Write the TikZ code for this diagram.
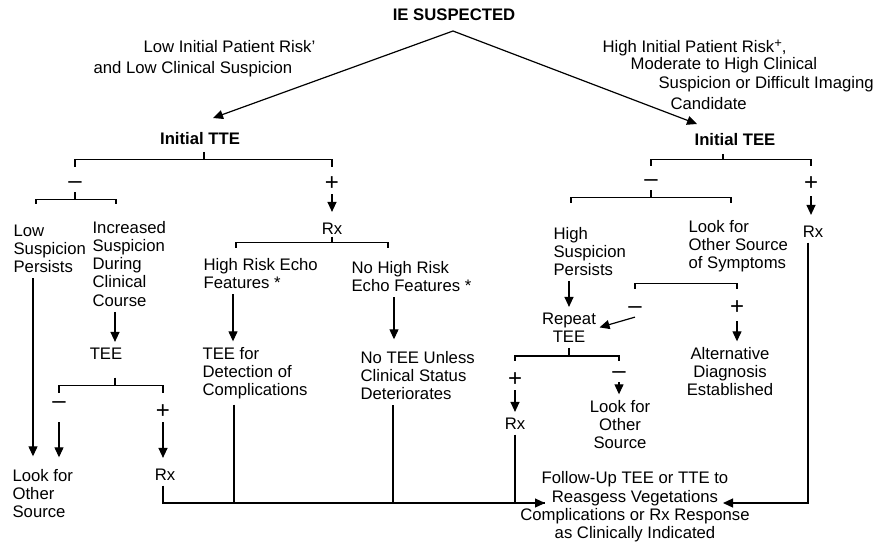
\documentclass[tikz,border=0pt]{standalone}
\usepackage{fontspec}
\setmainfont{Liberation Sans}
\usetikzlibrary{arrows.meta}

\begin{document}
\begin{tikzpicture}[x=1pt,y=-1pt,line width=1.2pt,
    txt/.style={font=\fontsize{16.7}{18.3}\selectfont,inner xsep=3pt,inner ysep=5pt,align=left},
    mid/.style={txt,align=center},
    hdr/.style={txt,font=\bfseries\fontsize{16.7}{18.3}\selectfont},
    sgn/.style={font=\fontsize{24}{24}\selectfont,inner sep=0pt,text height=12pt,text depth=3pt,anchor=base},
    arr/.style={-{Triangle[width=9pt,length=10pt]}}]
\useasboundingbox (0,0) rectangle (877,542);

% multi-line nodes sit on the baseline of their last line
\node[hdr,anchor=base] (ie) at (454,20) {IE SUSPECTED};
\node[txt,anchor=base west] (lowlbl) at (90,73) {\hspace*{50pt}Low Initial Patient Risk'\\[2.7pt]and Low Clinical Suspicion};
\node[txt,anchor=base west] (highlbl) at (599,109) {High Initial Patient Risk\raisebox{5pt}{\fontsize{13}{13}\selectfont+},\\[-1.3pt]\hspace*{28pt}Moderate to High Clinical\\\hspace*{56pt}Suspicion or Difficult Imaging\\[2.7pt]\hspace*{68pt}Candidate};
\node[hdr,anchor=base] (tte) at (200,144) {Initial TTE};
\node[hdr,anchor=base] (tee) at (735,145) {Initial TEE};
\coordinate (apex) at ([xshift=-1pt,yshift=-11pt]ie.base);
\coordinate (ttein) at ([xshift=13pt,yshift=26pt]tte.base);
\coordinate (teein) at ([xshift=-38pt,yshift=21pt]tee.base);
\draw[arr] (apex) -- (ttein);
\draw[arr] (apex) -- (teein);

% TTE side
\node[sgn] (tneg) at (75,188.5) {--};
\node[sgn] (tpos) at (332,190.5) {+};
\draw (tte.south) ++(4,2) -- ++(0,8) coordinate (ttebar);
\draw (tneg |- ttebar) ++(0,7) -- (tneg |- ttebar) -- (tpos |- ttebar) -- ++(0,7);
\node[txt,anchor=base west] (lowsusp) at (10,272.6) {Low\\Suspicion\\Persists};
\node[txt,anchor=base west] (incsusp) at (89,306.2) {Increased\\Suspicion\\During\\Clinical\\Course};
\draw (tneg.south) -- ++(0,7) coordinate (tnegbar) -- ++(-39,0) -- ++(0,5) (tnegbar) -- ++(41,0) -- ++(0,5);
\node[txt,anchor=base] (tee2) at (106,359) {TEE};
\draw[arr] ([xshift=26pt]incsusp.south west) -- ([xshift=9pt]tee2.north);
\draw ([xshift=9pt]tee2.south) ++(0,13) -- ++(0,8) coordinate (teebar);
\node[sgn] (tneg2) at (59,408.5) {--};
\node[sgn] (tpos2) at (163,418.5) {+};
\draw (tneg2 |- teebar) ++(0,7) -- (tneg2 |- teebar) -- (tpos2 |- teebar) -- ++(0,7);
\node[txt,anchor=base west] (lookl) at (9,517.6) {Look for\\Other\\Source};
\node[txt,anchor=base] (rxl) at (165,480) {Rx};
\draw[arr,shorten >=7pt] ([xshift=23pt]lowsusp.south west) -- ([xshift=24pt]lookl.north west);
\draw[arr,shorten <=10pt,shorten >=6pt] (tneg2.south) -- (tneg2 |- lookl.north);
\draw[arr,shorten >=5pt] (tpos2.south) -- (tpos2 |- rxl.north);

\node[txt,anchor=base] (rxm) at (332,234) {Rx};
\draw[arr,shorten >=5pt] (tpos.south) -- (rxm.north);
\draw (rxm.south) ++(0,-3) -- ++(0,6) coordinate (rxbar) -- ++(-96,0) -- ++(0,5) (rxbar) -- ++(56,0) -- ++(0,5);
\node[txt,anchor=base west] (highecho) at (200,288.3) {High Risk Echo\\Features *};
\node[txt,anchor=base west] (nohigh) at (348,291.3) {No High Risk\\Echo Features *};
\node[txt,anchor=base west] (teefor) at (199,395.6) {TEE for\\Detection of\\Complications};
\node[txt,anchor=base west] (noteeu) at (357,399.6) {No TEE Unless\\Clinical Status\\Deteriorates};
\draw[arr] ([xshift=33pt]highecho.south west) -- ([xshift=34pt]teefor.north west);
\draw[arr,shorten >=6pt] ([xshift=46pt]nohigh.south west) -- ([xshift=37pt]noteeu.north west);

% TEE side
\draw ([xshift=-12pt]tee.south) ++(0,3) -- ++(0,6) coordinate (teebar2);
\node[sgn] (eneg) at (651,186.5) {--};
\node[sgn] (epos) at (811,190.5) {+};
\draw (eneg |- teebar2) ++(0,6) -- (eneg |- teebar2) -- (epos |- teebar2) -- ++(0,6);
\node[txt,anchor=base] (rxr) at (813,237) {Rx};
\draw[arr,shorten <=2pt,shorten >=5pt] (epos.south) -- (epos |- rxr.north);
\draw (eneg.south) -- ++(0,7) coordinate (enegbar) -- ++(-80,0) -- ++(0,6) (enegbar) -- ++(80,0) -- ++(0,6);
\node[txt,anchor=base west] (highsusp) at (550,275.6) {High\\Suspicion\\Persists};
\node[txt,anchor=base west] (lookfor) at (685,268.6) {Look for\\Other Source\\of Symptoms};
\node[mid,anchor=base] (repeat) at (569,342.3) {Repeat\\TEE};
\draw[arr] (repeat.north |- highsusp.south) -- (repeat.north);
\coordinate (symbar) at ([yshift=-6pt]lookfor.south);
\node[sgn] (sneg) at (635,313.5) {--};
\node[sgn] (spos) at (737,314.5) {+};
\draw (sneg |- symbar) ++(0,5) -- (sneg |- symbar) -- (spos |- symbar) -- ++(0,5);
\draw[arr] (sneg.south) -- (repeat.east);
\node[mid,anchor=base] (altdx) at (730,395.6) {Alternative\\Diagnosis\\Established};
\draw[arr,shorten <=3pt] (spos.south) -- (spos |- altdx.north);
\draw (repeat.south) -- ++(0,8) coordinate (repbar);
\node[sgn] (rpos) at (515,386.5) {+};
\node[sgn] (rneg) at (619,378.5) {--};
\draw (rpos |- repbar) ++(0,5) -- (rpos |- repbar) -- (rneg |- repbar) -- ++(0,5);
\node[txt,anchor=base] (rxr2) at (515,429) {Rx};
\node[mid,anchor=base] (lookr) at (620,448.6) {Look for\\Other\\Source};
\draw[arr] (rpos.south) -- (rxr2.north);
\draw[arr] (rneg.south) -- (rneg |- lookr.north);

% follow-up
\node[mid,anchor=base] (followup) at (635,538.6) {Follow-Up TEE or TTE to\\Reasgess Vegetations\\Complications or Rx Response\\as Clinically Indicated};
\coordinate (fuleft) at ([xshift=-90pt,yshift=35.6pt]followup.base);
\coordinate (furight) at ([xshift=88pt,yshift=35.6pt]followup.base);
\draw[arr] (tpos2 |- rxl.south) |- (fuleft);
\draw ([xshift=35pt]teefor.south west) |- (fuleft);
\draw ([xshift=36pt]noteeu.south west) |- (fuleft);
\draw (rxr2.south) -- (rxr2 |- fuleft);
\draw[arr] ([xshift=-5pt]rxr.south) |- (furight);
\end{tikzpicture}
\end{document}
